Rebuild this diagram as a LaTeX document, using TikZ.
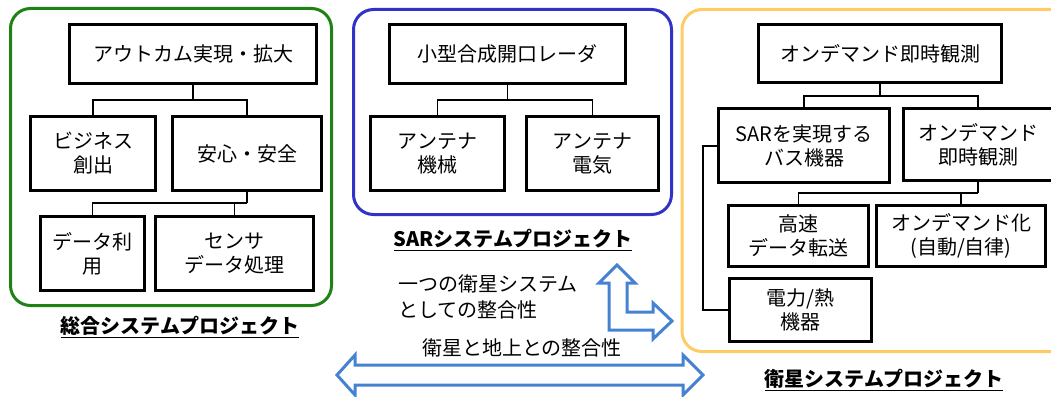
\documentclass[tikz,border=0pt]{standalone}
\usepackage{fontspec}
\setmainfont{Noto Sans CJK JP}
\definecolor{frameGreen}{RGB}{30,130,20}
\definecolor{frameBlue}{RGB}{50,50,200}
\definecolor{frameOrange}{RGB}{255,204,100}
\definecolor{arrowBlue}{RGB}{70,130,210}

\begin{document}
\begin{tikzpicture}[x=1pt, y=-1pt,
    blk/.style={draw, line width=3pt, fill=white, align=center, inner sep=0pt,
      font=\fontsize{20}{24}\selectfont},
    conn/.style={line width=1.3pt},
    frame/.style={line width=3pt, rounded corners=20pt},
    title/.style={font=\fontsize{20}{24}\selectfont\bfseries},
    note/.style={font=\fontsize{20}{26}\selectfont, align=left, inner sep=0pt},
    barrow/.style={draw=arrowBlue, line width=3pt, fill=white, line join=miter}]
  \useasboundingbox (0,0) rectangle (1051,396);

  % frames
  \draw[frame, frameGreen] (10.5,8.5) rectangle (331.5,305.5);
  \draw[frame, frameBlue] (353.5,9.5) rectangle (671.5,214.5);
  \draw[frame, frameOrange] (682,9.5) rectangle (1075,351.5);

  % 総合システム
  \node[blk, minimum width=247, minimum height=59] (out) at (193,54) {アウトカム実現・拡大};
  \node[blk, minimum width=125, minimum height=74] (biz) at (93,153.5) {ビジネス\\創出};
  \node[blk, minimum width=149, minimum height=74] (safe) at (247,153.5) {安心・安全};
  \node[blk, minimum width=104, minimum height=74] (use) at (92.5,253.5) {データ利\\用};
  \node[blk, minimum width=158, minimum height=74] (sens) at (234.5,253.5) {センサ\\データ処理};
  \coordinate (j1) at (193,100);
  \coordinate (j2) at (247,203);
  \draw[conn] (out) -- (j1);
  \draw[conn] (biz.north) |- (j1) -| (safe.north);
  \draw[conn] (safe) -- (j2);
  \draw[conn] (use.north) |- (j2);
  \draw[conn] (sens.north) -- (sens.north |- j2);
  \node[title] (tgen) at (180,327) {\underline{総合システムプロジェクト}};

  % SARシステム
  \node[blk, minimum width=236, minimum height=59] (sar) at (507.5,54) {小型合成開口レーダ};
  \node[blk, minimum width=134, minimum height=74] (antm) at (437.5,153.5) {アンテナ\\機械};
  \node[blk, minimum width=132, minimum height=74] (ante) at (592.5,153.5) {アンテナ\\電気};
  \coordinate (j3) at (507.5,100);
  \draw[conn] (sar) -- (j3);
  \draw[conn] (antm.north) |- (j3) -| (ante.north);
  \node[title] (tsar) at (513,240) {\underline{SARシステムプロジェクト}};

  % 衛星システム
  \node[blk, minimum width=243, minimum height=58] (obs) at (880,53.5) {オンデマンド即時観測};
  \node[blk, minimum width=171, minimum height=74] (bus) at (804,145.5) {SARを実現する\\バス機器};
  \node[blk, minimum width=150, minimum height=72] (ond) at (978,144.5) {オンデマンド\\即時観測};
  \node[blk, minimum width=140, minimum height=61] (fast) at (798.5,236) {高速\\データ転送};
  \node[blk, minimum width=169, minimum height=61] (auto) at (961,236) {オンデマンド化\\(自動/自律)};
  \node[blk, minimum width=142, minimum height=63] (pow) at (800.5,310) {電力/熱\\機器};
  \coordinate (j4) at (880,96);
  \coordinate (j5) at (978,193);
  \coordinate (j6) at (703,146);
  \draw[conn] (obs) -- (j4);
  \draw[conn] (bus.north) |- (j4) -| (ond.north);
  \draw[conn] (ond) -- (j5);
  \draw[conn] (fast.north) |- (j5);
  \draw[conn] (auto.north) -- (auto.north |- j5);
  \draw[conn] (bus.west |- j6) -- (j6) |- (pow.west);
  \node[title] (tsat) at (884,380) {\underline{衛星システムプロジェクト}};

  % 整合性
  \draw[barrow] (617,265) -- (635,283) -- (627,283) -- (627,312) -- (653,312) -- (653,303)
    -- (672,321) -- (653,339) -- (653,330) -- (609,330) -- (609,283) -- (599,283) -- cycle;
  \draw[barrow] (337,375) -- (355,355) -- (355,365) -- (683,365) -- (683,355) -- (703,375)
    -- (683,395) -- (683,385) -- (355,385) -- (355,395) -- cycle;
  \node[note, anchor=west] (one) at (398,297) {一つの衛星システム\\としての整合性};
  \node[note] (gnd) at (522,348) {衛星と地上との整合性};
\end{tikzpicture}
\end{document}
